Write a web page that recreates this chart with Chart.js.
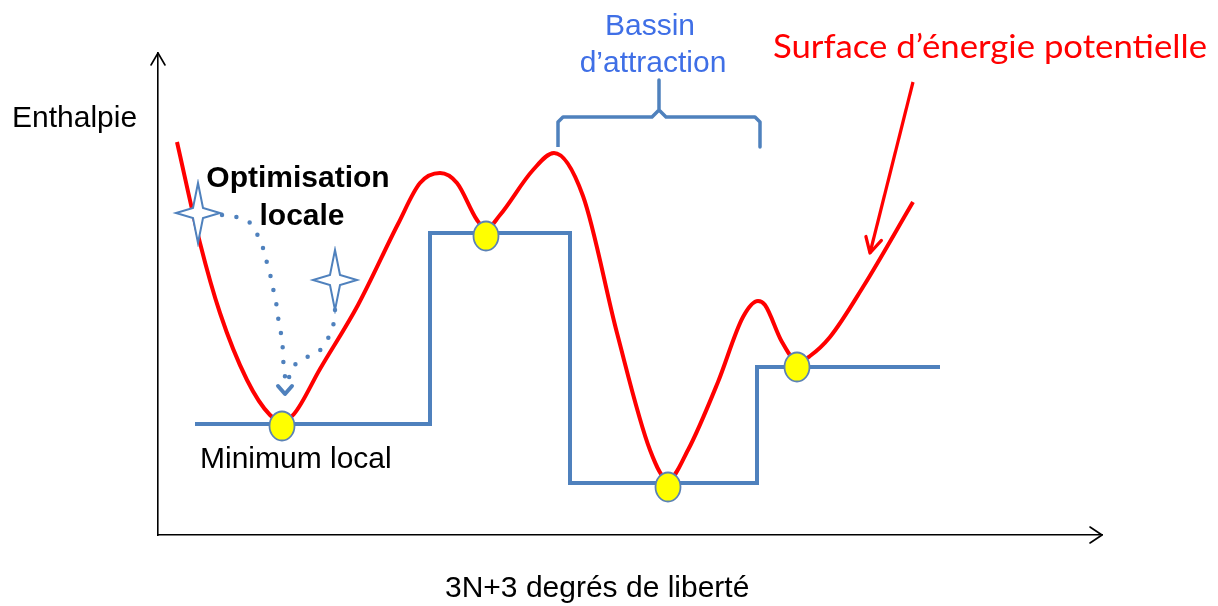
<!DOCTYPE html>
<html>
<head>
<meta charset="utf-8">
<script src="https://cdn.jsdelivr.net/npm/chart.js@4.4.1/dist/chart.umd.min.js"></script>
<style>
  html, body { margin: 0; padding: 0; background: #fff; }
  #wrap { width: 1218px; height: 606px; position: relative; }
</style>
</head>
<body>
<div id="wrap"><canvas id="paysage"></canvas></div>
<script>
// units: origin at the axes corner, x = degrés de liberté, y = enthalpie
const surfaceX = [19, 42, 62, 89, 112, 124, 136, 162, 200, 240, 262, 282, 299, 319, 328, 342, 375, 396,
  425, 459, 492, 510, 530, 560, 585, 600, 607, 624, 640, 652, 672, 705, 755];
const surfaceY = [393, 292, 222, 155, 120, 114, 121, 166, 230, 311, 352, 362, 352, 315, 306, 320, 365, 382,
  339, 202, 85, 55, 85, 153, 218, 234, 230, 193, 173, 179, 198, 248, 333];

const stepX = [37, 272, 412, 599, 782];
const stepY = [111, 302, 52, 168, 168];

const minimaX = [124, 328, 510, 639];
const minimaY = [109, 299, 48, 168];

const starX = [40, 177];
const starY = [322, 255];

const path1X = [64, 78, 91, 99, 105, 109, 113, 116, 119, 121, 124, 125, 126, 128];
const path1Y = [320, 318, 313, 301, 287, 272, 257, 242, 227, 211, 196, 180, 165, 153];
const path2X = [177, 175, 169, 160, 147, 136, 130];
const path2Y = [225, 209, 195, 183, 177, 169, 155];
const pathTip = [127, 141];

const bracketX = [400, 400, 405, 494, 501, 501, 501, 508, 597, 602, 602];
const bracketY = [388, 413, 418, 418, 425, 455, 425, 418, 418, 413, 388];

const pointerX = [755, 712];
const pointerY = [453, 282];

const labelText = ['Enthalpie', 'Optimisation', 'locale', 'Minimum local', '3N+3 degrés de liberté',
  'Bassin', 'd\u2019attraction', 'Surface d\u2019énergie potentielle'];
const labelX = [-146, 140, 144, 42, 287, 492, 495, 615];
const labelY = [408, 348, 310, 67, -62, 500, 463, 477];

const BLUE = '#4f81bd';
const RED = '#ff0000';

const pts = (xs, ys) => xs.map((v, i) => ({ x: v, y: ys[i] }));

function makeStar() {
  const c = document.createElement('canvas');
  c.width = 52; c.height = 68;
  const g = c.getContext('2d');
  const cx = 26, cy = 34;
  g.beginPath();
  g.moveTo(cx, cy - 30);
  g.lineTo(cx + 5, cy - 5);
  g.lineTo(cx + 22, cy);
  g.lineTo(cx + 5, cy + 5);
  g.lineTo(cx, cy + 30);
  g.lineTo(cx - 5, cy + 5);
  g.lineTo(cx - 22, cy);
  g.lineTo(cx - 5, cy - 5);
  g.closePath();
  g.fillStyle = '#fff';
  g.fill();
  g.strokeStyle = BLUE;
  g.lineWidth = 2;
  g.stroke();
  return c;
}

function makeDot() {
  const c = document.createElement('canvas');
  c.width = 30; c.height = 34;
  const g = c.getContext('2d');
  g.beginPath();
  g.ellipse(15, 17, 12.5, 14.5, 0, 0, Math.PI * 2);
  g.fillStyle = '#ffff00';
  g.fill();
  g.strokeStyle = '#5b82b5';
  g.lineWidth = 1.8;
  g.stroke();
  return c;
}

function chevron(ctx, tx, ty, dx, dy, len, half) {
  const bx = tx - dx * len, by = ty - dy * len;
  const px = -dy, py = dx;
  ctx.beginPath();
  ctx.moveTo(bx + px * half, by + py * half);
  ctx.lineTo(tx, ty);
  ctx.lineTo(bx - px * half, by - py * half);
  ctx.stroke();
}

const annotations = {
  id: 'annotations',
  afterDraw(chart) {
    const { ctx, chartArea: a, scales: { x, y } } = chart;
    ctx.save();
    ctx.lineCap = 'round';
    ctx.lineJoin = 'round';

    // axis arrow heads
    ctx.strokeStyle = '#000';
    ctx.lineWidth = 1.6;
    chevron(ctx, a.left, a.top, 0, -1, 12, 7);
    chevron(ctx, a.right, a.bottom, 1, 0, 12, 8);

    // red pointer head
    const x0 = x.getPixelForValue(pointerX[0]), y0 = y.getPixelForValue(pointerY[0]);
    const x1 = x.getPixelForValue(pointerX[1]), y1 = y.getPixelForValue(pointerY[1]);
    const len = Math.hypot(x1 - x0, y1 - y0);
    ctx.strokeStyle = RED;
    ctx.lineWidth = 3.2;
    chevron(ctx, x1, y1, (x1 - x0) / len, (y1 - y0) / len, 15, 8);

    // dotted path arrow head
    ctx.strokeStyle = BLUE;
    ctx.lineWidth = 4;
    chevron(ctx, x.getPixelForValue(pathTip[0]), y.getPixelForValue(pathTip[1]), 0, 1, 8, 7);

    // texts
    ctx.textBaseline = 'alphabetic';
    labelText.forEach((t, i) => {
      const px = x.getPixelForValue(labelX[i]);
      const py = y.getPixelForValue(labelY[i]);
      ctx.textAlign = 'left';
      if (i === 1 || i === 2) {
        ctx.font = 'bold 30px "Liberation Sans", Arial, sans-serif';
        ctx.fillStyle = '#000';
        ctx.textAlign = 'center';
      } else if (i === 5 || i === 6) {
        ctx.font = '30px "Liberation Sans", Arial, sans-serif';
        ctx.fillStyle = '#3f6fe6';
        ctx.textAlign = 'center';
      } else if (i === 7) {
        ctx.font = '32px Lato, "Noto Sans", sans-serif';
        ctx.fillStyle = RED;
        const w = ctx.measureText(t).width;
        ctx.save();
        ctx.translate(px, py);
        ctx.scale(434 / w, 1);
        ctx.fillText(t, 0, 0);
        ctx.restore();
        return;
      } else {
        ctx.font = '30px "Liberation Sans", Arial, sans-serif';
        ctx.fillStyle = '#000';
      }
      ctx.fillText(t, px, py);
    });
    ctx.restore();
  }
};

const ctx = document.getElementById('paysage').getContext('2d');

window.paysage = new Chart(ctx, {
  type: 'line',
  data: {
    datasets: [
      {
        data: pts(minimaX, minimaY),
        showLine: false,
        pointStyle: makeDot(),
        pointRadius: 12,
        order: 0
      },
      {
        data: pts(starX, starY),
        showLine: false,
        pointStyle: makeStar(),
        pointRadius: 20,
        order: 1
      },
      {
        data: pts(path1X, path1Y),
        borderColor: BLUE,
        borderWidth: 4.5,
        borderDash: [0, 14.5],
        borderCapStyle: 'round',
        tension: 0.4,
        pointRadius: 0,
        order: 2
      },
      {
        data: pts(path2X, path2Y),
        borderColor: BLUE,
        borderWidth: 4.5,
        borderDash: [0, 14.5],
        borderCapStyle: 'round',
        tension: 0.4,
        pointRadius: 0,
        order: 2
      },
      {
        data: pts(surfaceX, surfaceY),
        borderColor: RED,
        borderWidth: 4,
        cubicInterpolationMode: 'monotone',
        pointRadius: 0,
        order: 3
      },
      {
        data: pts(stepX, stepY),
        borderColor: BLUE,
        borderWidth: 4,
        stepped: true,
        pointRadius: 0,
        order: 4
      },
      {
        data: pts(bracketX, bracketY),
        borderColor: BLUE,
        borderWidth: 3.5,
        borderJoinStyle: 'round',
        tension: 0,
        pointRadius: 0,
        order: 5
      },
      {
        data: pts(pointerX, pointerY),
        borderColor: RED,
        borderWidth: 3.2,
        pointRadius: 0,
        order: 6
      }
    ]
  },
  options: {
    responsive: true,
    maintainAspectRatio: false,
    animation: false,
    events: [],
    clip: false,
    layout: { padding: { left: 158, top: 53, right: 116, bottom: 71 } },
    scales: {
      x: {
        type: 'linear',
        min: 0,
        max: 944,
        grid: { display: false, drawTicks: false },
        ticks: { display: false },
        border: { display: true, color: '#000', width: 1.6 }
      },
      y: {
        type: 'linear',
        min: 0,
        max: 482,
        grid: { display: false, drawTicks: false },
        ticks: { display: false },
        border: { display: true, color: '#000', width: 1.6 }
      }
    },
    plugins: {
      legend: { display: false },
      tooltip: { enabled: false }
    }
  },
  plugins: [annotations]
});
</script>
</body>
</html>
